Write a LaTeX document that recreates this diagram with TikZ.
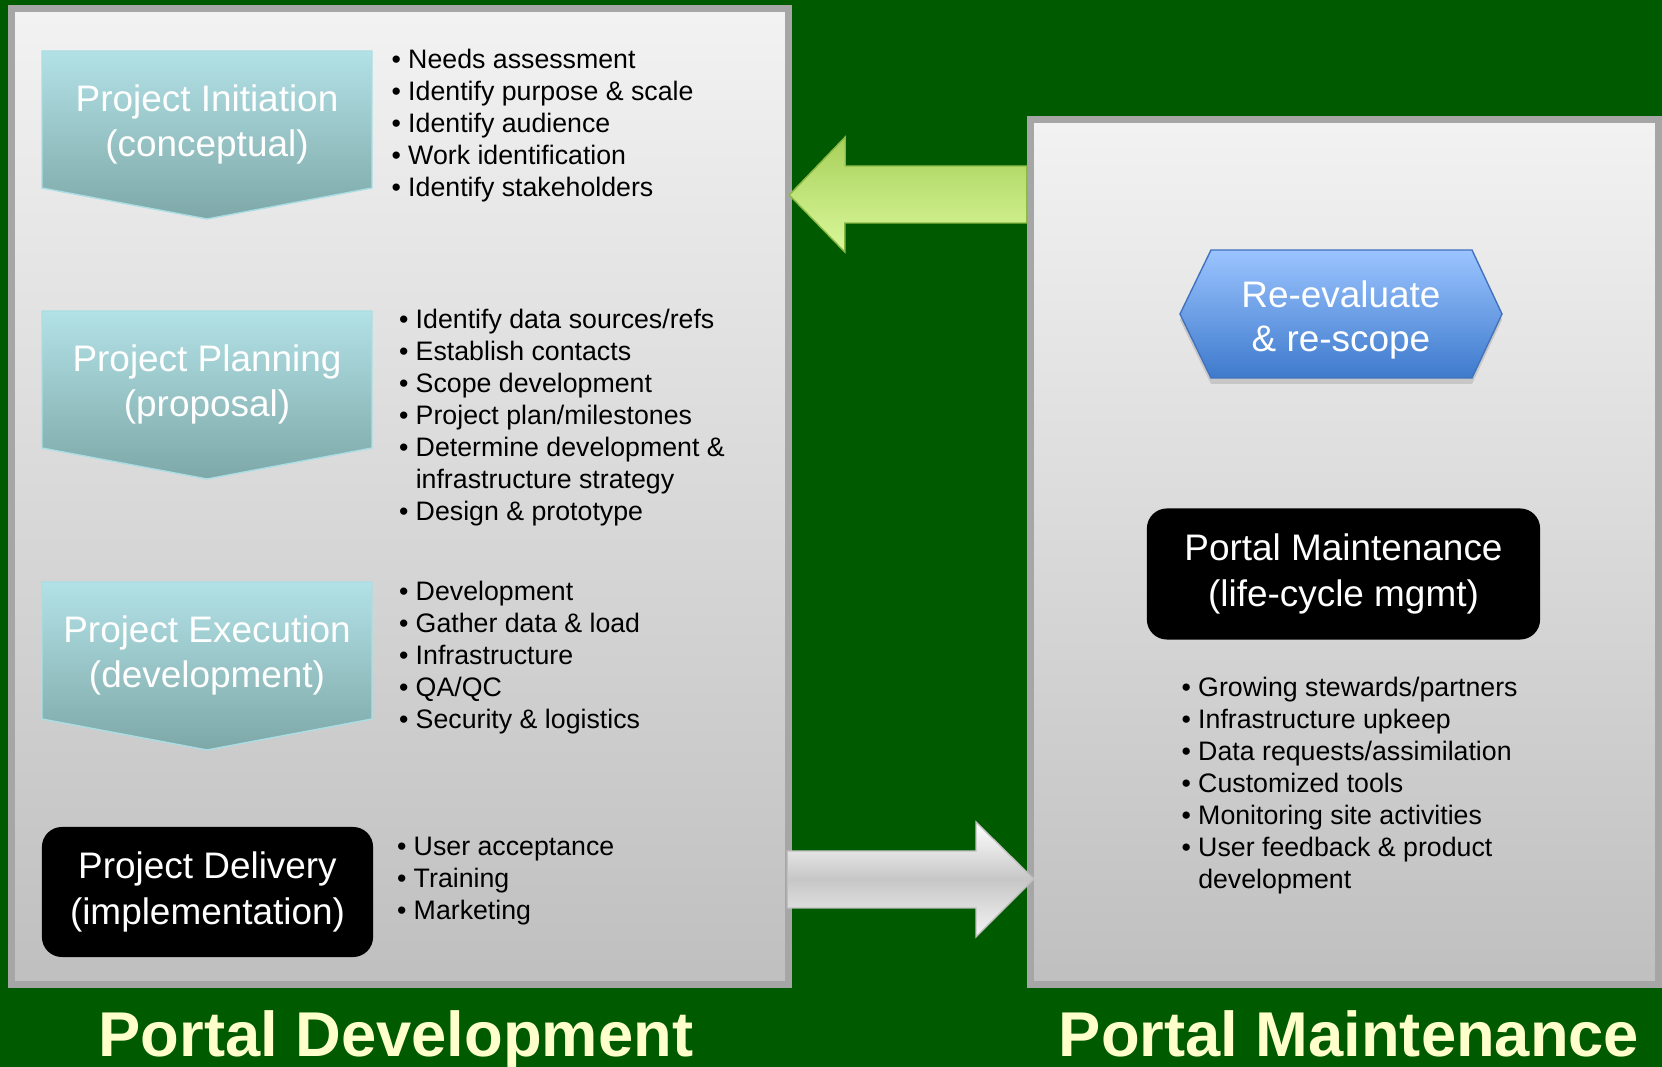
\documentclass[tikz,border=0pt]{standalone}
\usepackage{fontspec}
\setmainfont{Liberation Sans}

\definecolor{bggreen}{RGB}{0,90,0}
\definecolor{framegray}{RGB}{166,166,166}
\definecolor{chevtop}{RGB}{178,225,230}
\definecolor{chevbot}{RGB}{126,168,168}
\definecolor{chevline}{RGB}{170,222,228}
\definecolor{hextop}{RGB}{155,196,255}
\definecolor{hexbot}{RGB}{62,122,204}
\definecolor{hexline}{RGB}{66,114,190}
\definecolor{arrtop}{RGB}{168,208,90}
\definecolor{arrbot}{RGB}{218,248,155}
\definecolor{arrline}{RGB}{140,185,70}
\definecolor{titlecol}{RGB}{255,255,204}

\newcommand\bul{\makebox[0.62em][l]{\textbullet}}

\begin{document}
\begin{tikzpicture}[x=0.01cm, y=-0.01cm,
  panel/.style={draw=framegray, line width=0.07cm, top color=black!5, bottom color=black!25, inner sep=0},
  chevron/.style={draw=chevline, line width=0.4pt, top color=chevtop, bottom color=chevbot},
  phase/.style={text=white, align=center, inner sep=0, font=\fontsize{10.5}{12.8}\selectfont},
  items/.style={anchor=north west, inner sep=0, align=left, font=\fontsize{7.6}{9.1}\selectfont},
  blackbox/.style={fill=black, rounded corners=0.2cm, text=white, align=center, inner sep=0, font=\fontsize{10.5}{13}\selectfont},
  title/.style={anchor=base, text=titlecol, inner sep=0, font=\fontsize{18}{21}\selectfont\bfseries}]
\useasboundingbox (0,0) rectangle (1662,1067);
\fill[bggreen] (0,0) rectangle (1662,1067);

% the two panels
\node[panel, minimum width=7.77cm, minimum height=9.76cm] (dev) at (400,496.5) {};
\node[panel, minimum width=6.28cm, minimum height=8.65cm] (upkeep) at (1344.5,552) {};

% phases
\foreach \y/\nm/\la/\lb in {51/init/Project Initiation/{(conceptual)}, 311/plan/Project Planning/{(proposal)}, 582/exec/Project Execution/{(development)}} {
  \shade[chevron] (42,\y) -- (372,\y) -- (372,\y+137) -- (207,\y+168) -- (42,\y+137) -- cycle;
  \node[phase] (\nm) at (207,\y+73) {\la\\\lb};
}
\node[blackbox, minimum width=3.31cm, minimum height=1.30cm] (deliv) at (207.5,892) {Project Delivery\\(implementation)};

\node[items] (initlist) at (391,48) {\bul Needs assessment\\\bul Identify purpose \& scale\\\bul Identify audience\\\bul Work identification\\\bul Identify stakeholders};
\node[items] (planlist) at (398.5,308) {\bul Identify data sources/refs\\\bul Establish contacts\\\bul Scope development\\\bul Project plan/milestones\\\bul Determine development \&\\\hspace*{0.62em}infrastructure strategy\\\bul Design \& prototype};
\node[items] (execlist) at (398.5,580) {\bul Development\\\bul Gather data \& load\\\bul Infrastructure\\\bul QA/QC\\\bul Security \& logistics};
\node[items] (delivlist) at (396.5,836) {\bul User acceptance\\\bul Training\\\bul Marketing};

% maintenance side
\fill[black!22, yshift=-0.06cm] (1180,314) -- (1211,250) -- (1472,250) -- (1502,314) -- (1472,378) -- (1211,378) -- cycle;
\shade[draw=hexline, top color=hextop, bottom color=hexbot] (1180,314) -- (1211,250) -- (1472,250) -- (1502,314) -- (1472,378) -- (1211,378) -- cycle;
\node[phase, font=\fontsize{10.5}{12.7}\selectfont] (reval) at (1341,320) {Re-evaluate\\\& re-scope};
\node[blackbox, minimum width=3.93cm, minimum height=1.31cm] (upkeepbox) at (1343.5,574) {Portal Maintenance\\(life-cycle mgmt)};
\node[items] (upkeeplist) at (1181,676) {\bul Growing stewards/partners\\\bul Infrastructure upkeep\\\bul Data requests/assimilation\\\bul Customized tools\\\bul Monitoring site activities\\\bul User feedback \& product\\\hspace*{0.62em}development};

% block arrows between the panels
\shade[draw=arrline, top color=arrtop, bottom color=arrbot] ([xshift=-0.03cm]dev.east |- 0,195) -- ++(56,-58) -- ++(0,29) -- (upkeep.west |- 0,166) -- ++(0,57) -- ++(-182,0) -- ++(0,29) -- cycle;
\shade[draw=black!25, top color=white, bottom color=black!4, middle color=black!22] ([xshift=-0.05cm]dev.east |- 0,851) -- (976,851) -- (976,822) -- ([xshift=0.07cm]upkeep.west |- 0,879) -- (976,937) -- (976,908) -- ([xshift=-0.05cm]dev.east |- 0,908) -- cycle;

\node[title] (devtitle) at (396,1057) {Portal Development};
\node[title] (upkeeptitle) at (1349,1057) {Portal Maintenance};
\end{tikzpicture}
\end{document}
